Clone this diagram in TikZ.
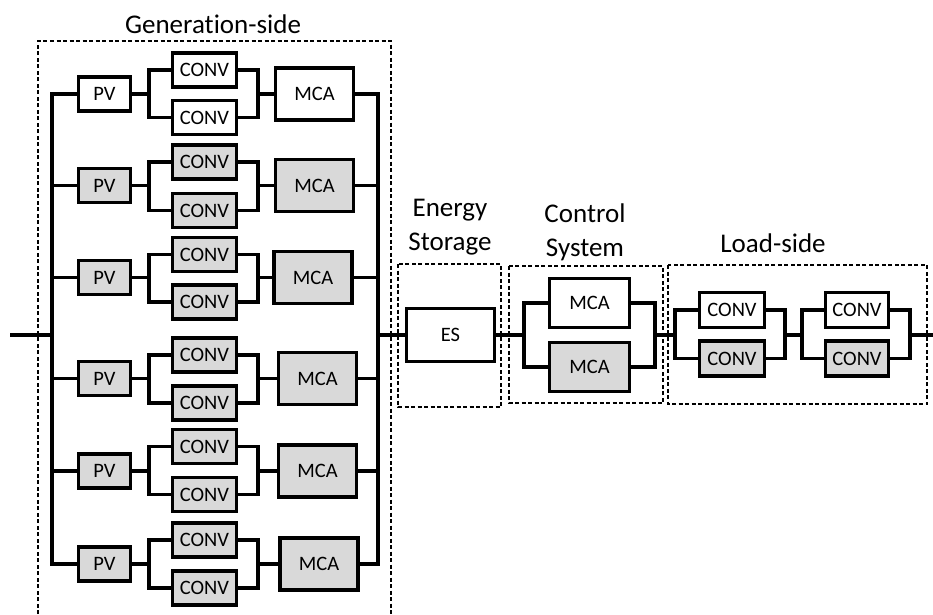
\documentclass[tikz,border=0pt]{standalone}
\usepackage{fontspec}
\setmainfont{Carlito}[RawFeature={-liga;-clig;-dlig}]
\definecolor{gfill}{RGB}{217,217,217}
\begin{document}
\begin{tikzpicture}[x=1pt,y=-1pt,
  blk/.style={draw=black,line width=3.8pt,inner sep=0pt,font=\fontsize{20.5}{24}\selectfont},
  pvsize/.style={minimum width=52pt,minimum height=34pt},
  convsize/.style={minimum width=64pt,minimum height=34pt},
  mcasize/.style={minimum width=78pt,minimum height=52pt},
  wire/.style={line width=3.2pt,line cap=rect,line join=miter},
  grp/.style={line width=2.2pt,dash pattern=on 4pt off 2.5pt},
  lbl/.style={font=\fontsize{27}{34}\selectfont,align=center,inner sep=0pt}]
\useasboundingbox (0,0) rectangle (933,614);
% generation-side group
\draw[grp] (38,614) |- (391,41) -- (391,614);
\node[lbl] (glabel) at (213,24) {Generat\kern0pt ion-side};
\foreach \r/\y/\ct/\cb/\mx/\f in {
  1/94/70/117.5/314.5/white,
  2/185.5/162/210.5/314.5/gfill,
  3/277.5/254.5/302/313/gfill,
  4/378.5/355/403/317.5/gfill,
  5/471/446.5/494.5/317.5/gfill,
  6/564/540/588/319/gfill}{
  \node[blk,pvsize,fill=\f] (pv\r) at (104.5,\y) {PV};
  \node[blk,convsize,fill=\f] (ct\r) at (204.5,\ct) {CONV};
  \node[blk,convsize,fill=\f] (cb\r) at (204.5,\cb) {CONV};
  \node[blk,mcasize,fill=\f] (mca\r) at (\mx,\y) {MCA};
  \coordinate (lb\r) at (52,\y);
  \coordinate (sl\r) at (149,\y);
  \coordinate (sr\r) at (258,\y);
  \coordinate (rb\r) at (378,\y);
  \draw[wire] (lb\r) -- (pv\r.west);
  \draw[wire] (pv\r.east) -- (sl\r);
  \draw[wire] (ct\r.west) -| (sl\r) |- (cb\r.west);
  \draw[wire] (ct\r.east) -| (sr\r) |- (cb\r.east);
  \draw[wire] (sr\r) -- (mca\r.west);
  \draw[wire] (mca\r.east) -- (rb\r);
}
\draw[wire] (lb1) -- (lb6);
\draw[wire] (rb1) -- (rb6);
\coordinate (inp) at (12,335);
\coordinate (busl) at (52,335);
\coordinate (busr) at (378,335);
\draw[wire] (inp) -- (busl);
% energy storage
\draw[grp] (398,264) rectangle (501,407);
\node[lbl] (eslabel) at (450,227) {Energy\\Storage};
\node[blk,fill=white,minimum width=88pt,minimum height=53pt] (es) at (450.5,335) {ES};
\draw[wire] (busr) -- (es.west);
% control system
\draw[grp] (509,266) rectangle (663,403);
\node[lbl] (cslabel) at (585,232) {Control\\System};
\node[blk,fill=white,minimum width=80pt,minimum height=49pt] (cm1) at (589.5,303) {MCA};
\node[blk,fill=gfill,minimum width=80pt,minimum height=49pt] (cm2) at (589.5,367) {MCA};
\coordinate (cs1) at (524,335);
\coordinate (cs2) at (655,335);
\draw[wire] (es.east) -- (cs1);
\draw[wire] (cm1.west) -| (cs1) |- (cm2.west);
\draw[wire] (cm1.east) -| (cs2) |- (cm2.east);
% load side
\draw[grp] (668,265) rectangle (927,404);
\node[lbl] (llabel) at (773,243.5) {Load-side};
\node[blk,fill=white,minimum width=65pt,minimum height=35pt] (lc1) at (732,310) {CONV};
\node[blk,fill=gfill,minimum width=65pt,minimum height=35pt] (lc2) at (732,358.5) {CONV};
\node[blk,fill=white,minimum width=63pt,minimum height=35pt] (lc3) at (857,310) {CONV};
\node[blk,fill=gfill,minimum width=63pt,minimum height=35pt] (lc4) at (857,358.5) {CONV};
\coordinate (ls1) at (675,335);
\coordinate (ls2) at (785,335);
\coordinate (ls3) at (802,335);
\coordinate (ls4) at (910,335);
\coordinate (outp) at (933,335);
\draw[wire] (cs2) -- (ls1);
\draw[wire] (lc1.west) -| (ls1) |- (lc2.west);
\draw[wire] (lc1.east) -| (ls2) |- (lc2.east);
\draw[wire] (ls2) -- (ls3);
\draw[wire] (lc3.west) -| (ls3) |- (lc4.west);
\draw[wire] (lc3.east) -| (ls4) |- (lc4.east);
\draw[wire] (ls4) -- (outp);
\end{tikzpicture}
\end{document}
